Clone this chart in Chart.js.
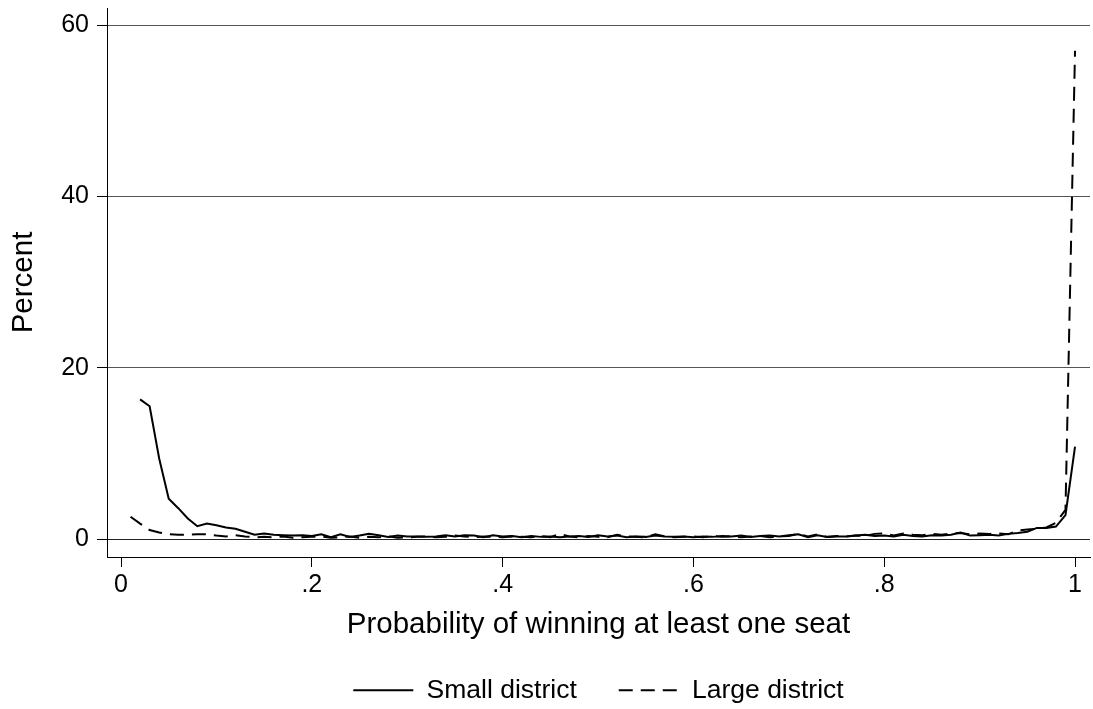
<!DOCTYPE html>
<html>
<head>
<meta charset="utf-8">
<script src="https://cdn.jsdelivr.net/npm/chart.js@4/dist/chart.umd.min.js"></script>
<style>
  html, body { margin: 0; padding: 0; background: #fff; }
  #wrap { width: 1093px; height: 709px; }
</style>
</head>
<body>
<div id="wrap"><canvas id="chart" width="1093" height="709"></canvas></div>
<script>
// probability bins 0.01 ... 1.00
const probs = Array.from({ length: 100 }, (_, i) => (i + 1) / 100);

// percent of parties in each bin, small districts (no value at .01)
const smallDistrict = [
  null, 16.3, 15.5, 9.4, 4.7, 3.6, 2.4, 1.5, 1.8, 1.6,
  1.35, 1.2, 0.85, 0.5, 0.65, 0.5, 0.45, 0.4, 0.45, 0.35,
  0.55, 0.2, 0.55, 0.25, 0.4, 0.6, 0.45, 0.25, 0.4, 0.3,
  0.3, 0.25, 0.3, 0.45, 0.3, 0.45, 0.4, 0.2, 0.45, 0.3,
  0.35, 0.2, 0.35, 0.25, 0.3, 0.2, 0.3, 0.35, 0.25, 0.45,
  0.3, 0.4, 0.2, 0.3, 0.25, 0.4, 0.3, 0.25, 0.3, 0.2,
  0.3, 0.25, 0.35, 0.3, 0.4, 0.25, 0.35, 0.4, 0.3, 0.45,
  0.55, 0.2, 0.45, 0.25, 0.3, 0.3, 0.4, 0.5, 0.35, 0.4,
  0.3, 0.5, 0.35, 0.3, 0.45, 0.4, 0.5, 0.75, 0.4, 0.45,
  0.5, 0.4, 0.6, 0.7, 0.85, 1.3, 1.3, 1.45, 2.8, 10.8
];

// large districts
const largeDistrict = [
  2.6, 1.8, 1.05, 0.75, 0.55, 0.5, 0.5, 0.55, 0.55, 0.4,
  0.3, 0.45, 0.3, 0.2, 0.25, 0.2, 0.3, 0.15, 0.2, 0.25,
  0.3, 0.15, 0.2, 0.3, 0.15, 0.25, 0.2, 0.3, 0.15, 0.2,
  0.25, 0.3, 0.2, 0.25, 0.4, 0.3, 0.2, 0.3, 0.25, 0.2,
  0.3, 0.25, 0.2, 0.35, 0.2, 0.6, 0.3, 0.2, 0.35, 0.25,
  0.2, 0.5, 0.3, 0.25, 0.2, 0.55, 0.3, 0.2, 0.25, 0.3,
  0.2, 0.35, 0.25, 0.3, 0.2, 0.3, 0.35, 0.2, 0.3, 0.35,
  0.6, 0.3, 0.55, 0.25, 0.35, 0.3, 0.4, 0.35, 0.6, 0.65,
  0.4, 0.65, 0.5, 0.45, 0.6, 0.5, 0.65, 0.7, 0.55, 0.65,
  0.6, 0.65, 0.55, 1.0, 1.1, 1.2, 1.35, 1.9, 3.4, 57.0
];

const xTicks = [0, 0.2, 0.4, 0.6, 0.8, 1];
const xTickLabels = ['0', '.2', '.4', '.6', '.8', '1'];
const yTicks = [0, 20, 40, 60];

const FONT = '"Liberation Sans", Arial, sans-serif';
Chart.defaults.font.family = FONT;
Chart.defaults.color = '#000';

const toPoints = (vals) => probs.map((p, i) => ({ x: p, y: vals[i] }));

// legend items with the dataset's own dash pattern
const legendLabels = (chart) =>
  Chart.defaults.plugins.legend.labels.generateLabels(chart).map((item, i) => ({
    ...item,
    strokeStyle: '#000',
    lineWidth: 2,
    lineDash: chart.data.datasets[i].borderDash || [],
  }));

new Chart(document.getElementById('chart').getContext('2d'), {
  type: 'line',
  data: {
    datasets: [
      {
        label: 'Small district',
        data: toPoints(smallDistrict),
        borderColor: '#000',
        borderWidth: 2,
        pointRadius: 0,
        tension: 0,
        fill: false,
      },
      {
        label: 'Large district',
        data: toPoints(largeDistrict),
        borderColor: '#000',
        borderWidth: 2,
        borderDash: [14, 8],
        pointRadius: 0,
        tension: 0,
        fill: false,
      },
    ],
  },
  options: {
    responsive: false,
    animation: false,
    devicePixelRatio: 1,
    layout: { padding: { top: 8, right: 3, left: 0, bottom: 0 } },
    plugins: {
      tooltip: { enabled: false },
      legend: {
        position: 'bottom',
        fullSize: false,
        maxHeight: 74,
        labels: {
          usePointStyle: true,
          pointStyle: 'line',
          pointStyleWidth: 60,
          padding: 42,
          color: '#000',
          font: { size: 26.5, family: FONT },
          generateLabels: legendLabels,
        },
      },
    },
    scales: {
      x: {
        type: 'linear',
        min: -0.0147,
        max: 1.0157,
        afterBuildTicks: (scale) => { scale.ticks = xTicks.map((v) => ({ value: v })); },
        afterFit: (scale) => {
          scale.height = 78;
          scale.paddingLeft = 0;
          scale.paddingRight = 0;
        },
        ticks: {
          padding: 3,
          font: { size: 25 },
          color: '#000',
          callback: (v) => xTickLabels[xTicks.indexOf(v)],
        },
        grid: { drawOnChartArea: false, drawTicks: true, tickLength: 10, tickColor: '#000' },
        border: { display: true, color: '#000', width: 1 },
        title: {
          display: true,
          text: 'Probability of winning at least one seat',
          color: '#000',
          font: { size: 29.5, lineHeight: 1 },
          padding: { top: 0, bottom: -5 },
        },
      },
      y: {
        min: -2.1,
        max: 62,
        afterBuildTicks: (scale) => { scale.ticks = yTicks.map((v) => ({ value: v })); },
        afterFit: (scale) => {
          scale.width = 107;
          scale.paddingTop = 0;
          scale.paddingBottom = 0;
        },
        ticks: { padding: 8, font: { size: 25 }, color: '#000' },
        grid: {
          color: (ctx) => (ctx.tick && ctx.tick.value === 0 ? '#222' : '#555'),
          lineWidth: 1,
          drawTicks: true,
          tickLength: 10,
          tickColor: '#000',
        },
        border: { display: true, color: '#000', width: 1 },
        title: {
          display: true,
          text: 'Percent',
          color: '#000',
          font: { size: 29.5 },
          padding: { top: 6, bottom: 0 },
        },
      },
    },
  },
});
</script>
</body>
</html>
